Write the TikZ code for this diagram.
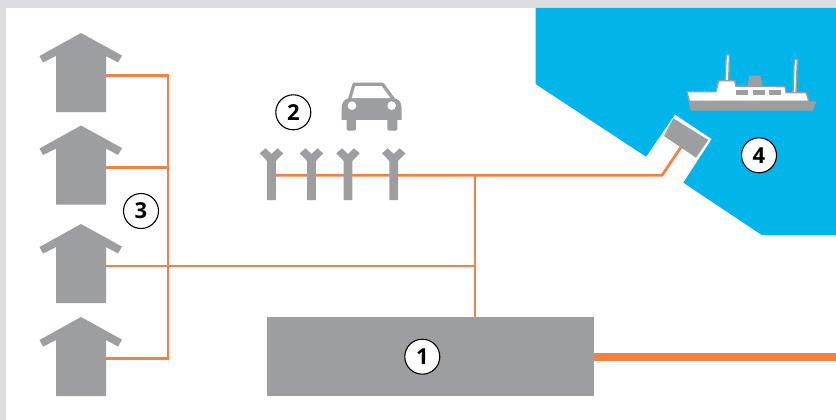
\documentclass[tikz,border=0pt]{standalone}
\usepackage{fontspec}
\setmainfont{Open Sans}
\definecolor{bgstrip}{HTML}{DCDDDF}
\definecolor{hgray}{HTML}{9D9EA0}
\definecolor{wire}{HTML}{F08246}
\definecolor{sea}{HTML}{00B5E9}
\tikzset{
  wire/.style={draw=wire,line width=2.7pt,line join=miter},
  mainwire/.style={draw=wire,line width=8pt},
  badge/.style={circle,draw=black,line width=1.1pt,fill=white,minimum size=35pt,inner sep=0pt,font=\fontsize{22}{22}\selectfont\bfseries},
  block/.style={fill=hgray,draw=none},
  shipline/.style={draw=hgray,line width=1.3pt,fill=white,line join=miter},
  house/.pic={\fill[hgray] (0,0) -- (41,22.6) -- (37,29.5) -- (25,23) -- (25,79) -- (-25,79) -- (-25,23) -- (-38,29.5) -- (-41.5,23) -- cycle;},
  mast/.pic={\fill[hgray] (0,154) -- (6,148.3) -- (11.7,153.3) -- (4.3,161) -- (4.3,200) -- (-4.3,200) -- (-4.3,161) -- (-11.7,153.3) -- (-6,148.3) -- cycle;}
}
\begin{document}
\begin{tikzpicture}[x=1pt,y=-1pt]
\useasboundingbox (0,0) rectangle (836,420);
\fill[bgstrip] (0,0) rectangle (836,420);
\fill[white] (6,8) rectangle (836,420);
% sea
\fill[sea] (535.5,8) -- (836,8) -- (836,235) -- (761.7,235) -- (683.3,182.7) -- (711.7,139) -- (675,114.5) -- (646,156.7) -- (535.5,84) -- cycle;
% named points
\coordinate (h1p) at (106,75.5);
\coordinate (h2p) at (106,167.5);
\coordinate (h3p) at (106,266);
\coordinate (h4p) at (106,358.5);
\coordinate (bt) at (168,75.5);
\coordinate (b2) at (168,167.5);
\coordinate (b3) at (168,266);
\coordinate (bb) at (168,358.5);
\coordinate (j2) at (475,266);
\coordinate (j1) at (475,175.3);
\coordinate (ant) at (271.5,175.3);
\coordinate (bend) at (662,175.3);
\coordinate (lift) at (681,147);
\coordinate (out) at (836,356.7);
\node[block,minimum width=327pt,minimum height=79pt,inner sep=0pt,anchor=north west] (plant) at (267,317) {};
% connectors
\draw[wire] (h1p) -- (bt) -- (bb) -- (h4p);
\draw[wire] (h2p) -- (b2);
\draw[wire] (h3p) -- (j2);
\draw[wire] (plant.north -| j1) -- (j1);
\draw[wire] (ant) -- (bend) -- (lift);
\draw[mainwire] (plant.east |- out) -- (out);
% houses
\pic at (81,33) {house};
\pic at (81,125.5) {house};
\pic at (81,224) {house};
\pic at (81,317) {house};
% masts
\pic at (271.5,0) {mast};
\pic at (311.5,0) {mast};
\pic at (348,0) {mast};
\pic at (393.7,0) {mast};
% car
\begin{scope}[shift={(250,70)},x=0.3333pt,y=-0.3333pt]
\draw[hgray,line width=3.2pt,fill=white,line join=round] (312,43) -- (398,43) -- (432,90) -- (298,90) -- cycle;
\fill[hgray] (275,115) .. controls (275,95) and (285,85) .. (300,85) -- (430,85) .. controls (445,85) and (455,95) .. (455,115) -- (455,150) -- (442,150) -- (442,176) .. controls (442,180) and (440,182) .. (436,182) -- (418,182) .. controls (414,182) and (412,180) .. (412,176) -- (412,150) -- (318,150) -- (318,176) .. controls (318,180) and (316,182) .. (312,182) -- (296,182) .. controls (292,182) and (290,180) .. (290,176) -- (290,150) -- (275,150) -- cycle;
\fill[white] (306,107) circle (13);
\fill[white] (425,107) circle (13);
\end{scope}
% terminal
\fill[hgray] (673.3,118.3) -- (708.3,140) -- (696,157.7) -- (664,136) -- cycle;
% ship
\begin{scope}[shift={(630,40)},x=0.3333pt,y=-0.3333pt]
\draw[shipline] (289,45) -- (298,45) -- (296,125) -- (285,125) -- cycle;
\draw[shipline] (493,58) -- (502,58) -- (498,162) -- (489,162) -- cycle;
\fill[hgray] (358,107) -- (392,107) -- (398,140) -- (352,140) -- cycle;
\draw[shipline] (171,155) -- (258,155) -- (266,122) -- (314,122) -- (318,139) -- (465,140) -- (468,158) -- (528,158) -- (537,184) -- (178,184) -- cycle;
\fill[hgray] (176,184) -- (560,184) -- (548,212) -- (182,212) -- cycle;
\fill[hgray] (318,150) rectangle (354,165);
\fill[hgray] (369,150) rectangle (405,165);
\fill[hgray] (417,150) rectangle (453,165);
\end{scope}
% badges
\node[badge] (n1) at (422.3,356.7) {1};
\node[badge] (n2) at (293.3,112.3) {2};
\node[badge] (n3) at (141,211) {3};
\node[badge] (n4) at (759,155.3) {4};
\end{tikzpicture}
\end{document}
